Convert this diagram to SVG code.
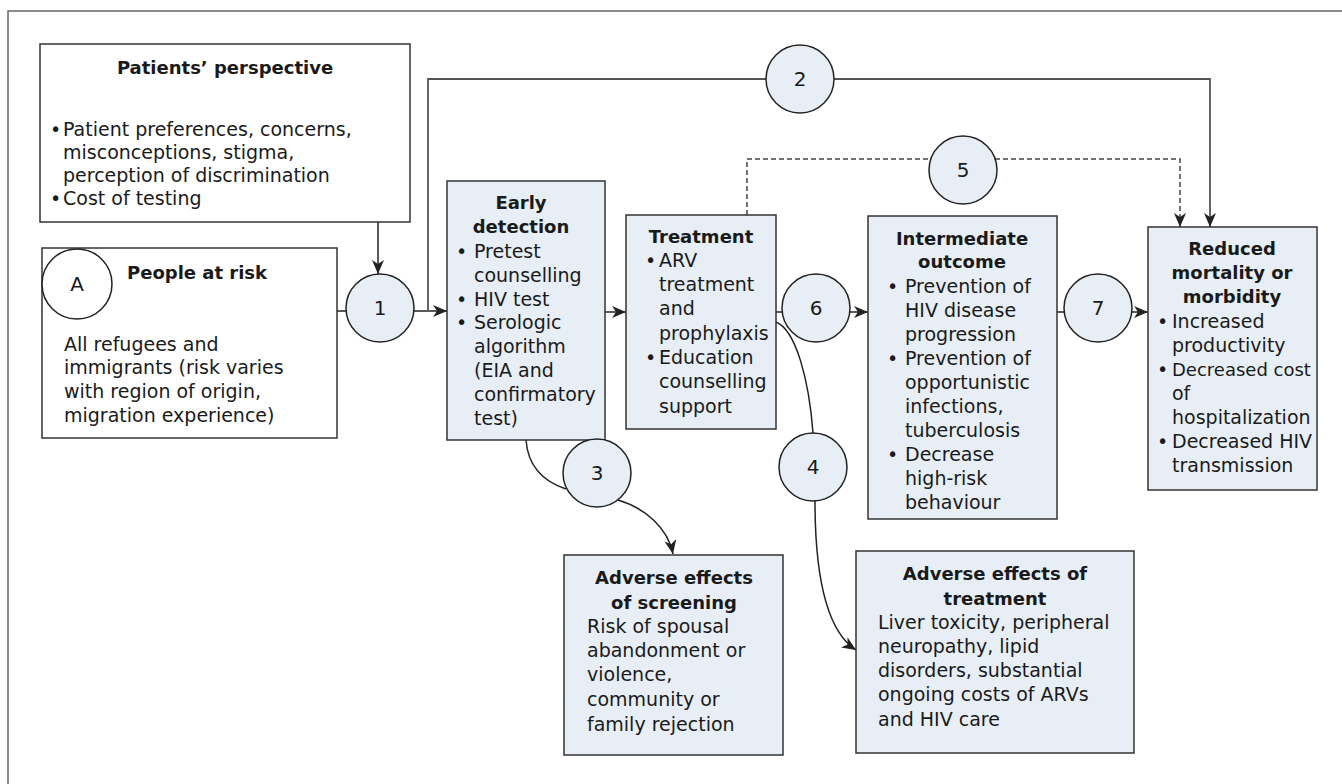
<svg xmlns="http://www.w3.org/2000/svg" width="1342" height="784" viewBox="0 0 1342 784">
<style>
.frame{fill:none;stroke:#666;stroke-width:1.5}
.box{fill:#e7eef6;stroke:#333;stroke-width:1.5}
.wbox{fill:#fff;stroke:#333;stroke-width:1.5}
.circ{fill:#e7eef6;stroke:#222;stroke-width:1.5}
.wcirc{fill:#fff;stroke:#222;stroke-width:1.5}
.ln{fill:none;stroke:#222;stroke-width:1.5}
.ln2{fill:none;stroke:#555;stroke-width:1.8}
.dash{fill:none;stroke:#444;stroke-width:1.5;stroke-dasharray:5,3}
text{font-family:"DejaVu Sans","Noto Sans",sans-serif;fill:#1a1a1a}
.t{font-size:19px}
.s{font-size:19px}
.b{font-weight:bold;font-size:18px}
.m{text-anchor:middle}
.n{font-size:20px;text-anchor:middle}
</style>
<defs>
<marker id="ah" viewBox="0 0 14 12" refX="14" refY="6" markerWidth="14" markerHeight="12" markerUnits="userSpaceOnUse" orient="auto">
<path d="M0,0 L14,6 L0,12 L4,6 z" fill="#222"/>
</marker>
</defs>
<path class="frame" d="M8,784 V11 H1342"/>
<g id="connectors">
<path class="ln" d="M337,311 H346"/>
<path class="ln" d="M414,311 H447" marker-end="url(#ah)"/>
<path class="ln" d="M378,222 V274" marker-end="url(#ah)"/>
<path class="ln2" d="M428,311 V79 H1210 V227" marker-end="url(#ah)"/>
<path class="ln" d="M597,312 H626" marker-end="url(#ah)"/>
<path class="ln" d="M776,312 H783"/>
<path class="ln" d="M849,312 H868" marker-end="url(#ah)"/>
<path class="ln" d="M1057,312 H1064"/>
<path class="ln" d="M1132,312 H1148" marker-end="url(#ah)"/>
<path class="dash" d="M747,215 V159 H1180 V227" marker-end="url(#ah)"/>
<path class="ln" d="M526,440 C528,468 545,482 566,489"/>
<path class="ln" d="M618,500 C645,508 668,528 673,554" marker-end="url(#ah)"/>
<path class="ln" d="M776,322 C796,330 809,380 813,433"/>
<path class="ln" d="M815,501 C815,560 822,628 856,650" marker-end="url(#ah)"/>
</g>
<g id="patients">
<rect class="wbox" x="40" y="44" width="370" height="178"/>
<text class="b m" x="225" y="74">Patients’ perspective</text>
<text class="s" x="50" y="136">•</text><text class="s" x="63" y="136">Patient preferences, concerns,</text>
<text class="s" x="63" y="159">misconceptions, stigma,</text>
<text class="s" x="63" y="182">perception of discrimination</text>
<text class="s" x="50" y="205">•</text><text class="s" x="63" y="205">Cost of testing</text>
</g>
<g id="people">
<rect class="wbox" x="42" y="248" width="295" height="190"/>
<circle class="wcirc" cx="77" cy="284" r="35"/>
<text class="n" x="77" y="291">A</text>
<text class="b" x="127" y="279">People at risk</text>
<text class="t" x="64" y="351">All refugees and</text>
<text class="t" x="64" y="374">immigrants (risk varies</text>
<text class="t" x="64" y="398">with region of origin,</text>
<text class="t" x="64" y="422">migration experience)</text>
</g>
<g id="early">
<rect class="box" x="447" y="181" width="158" height="259"/>
<text class="b m" x="521" y="209">Early</text>
<text class="b m" x="521" y="233">detection</text>
<text class="t" x="456" y="258">•</text><text class="t" x="474" y="258">Pretest</text>
<text class="t" x="474" y="282">counselling</text>
<text class="t" x="456" y="306">•</text><text class="t" x="474" y="306">HIV test</text>
<text class="t" x="456" y="329">•</text><text class="t" x="474" y="329">Serologic</text>
<text class="t" x="474" y="353">algorithm</text>
<text class="t" x="474" y="377">(EIA and</text>
<text class="t" x="474" y="401">confirmatory</text>
<text class="t" x="474" y="425">test)</text>
</g>
<g id="treatment">
<rect class="box" x="626" y="215" width="150" height="214"/>
<text class="b m" x="701" y="243">Treatment</text>
<text class="t" x="645" y="267">•</text><text class="t" x="659" y="267">ARV</text>
<text class="t" x="659" y="291">treatment</text>
<text class="t" x="659" y="315">and</text>
<text class="t" x="659" y="340">prophylaxis</text>
<text class="t" x="645" y="364">•</text><text class="t" x="659" y="364">Education</text>
<text class="t" x="659" y="388">counselling</text>
<text class="t" x="659" y="413">support</text>
</g>
<g id="intermediate">
<rect class="box" x="868" y="216" width="189" height="303"/>
<text class="b m" x="962" y="245">Intermediate</text>
<text class="b m" x="962" y="268">outcome</text>
<text class="t" x="887" y="293">•</text><text class="t" x="905" y="293">Prevention of</text>
<text class="t" x="905" y="317">HIV disease</text>
<text class="t" x="905" y="341">progression</text>
<text class="t" x="887" y="365">•</text><text class="t" x="905" y="365">Prevention of</text>
<text class="t" x="905" y="389">opportunistic</text>
<text class="t" x="905" y="413">infections,</text>
<text class="t" x="905" y="437">tuberculosis</text>
<text class="t" x="887" y="461">•</text><text class="t" x="905" y="461">Decrease</text>
<text class="t" x="905" y="485">high-risk</text>
<text class="t" x="905" y="509">behaviour</text>
</g>
<g id="reduced">
<rect class="box" x="1148" y="227" width="169" height="263"/>
<text class="b m" x="1232" y="255">Reduced</text>
<text class="b m" x="1232" y="279">mortality or</text>
<text class="b m" x="1232" y="303">morbidity</text>
<text class="t" x="1157" y="328">•</text><text class="t" x="1172" y="328">Increased</text>
<text class="t" x="1172" y="352">productivity</text>
<text class="t" x="1157" y="376">•</text><text class="t" x="1172" y="376" style="font-size:18px">Decreased cost</text>
<text class="t" x="1172" y="400">of</text>
<text class="t" x="1172" y="424">hospitalization</text>
<text class="t" x="1157" y="448">•</text><text class="t" x="1172" y="448">Decreased HIV</text>
<text class="t" x="1172" y="472">transmission</text>
</g>
<g id="adverse-screening">
<rect class="box" x="564" y="555" width="219" height="200"/>
<text class="b m" x="674" y="584">Adverse effects</text>
<text class="b m" x="674" y="609">of screening</text>
<text class="t" x="587" y="633">Risk of spousal</text>
<text class="t" x="587" y="657">abandonment or</text>
<text class="t" x="587" y="681">violence,</text>
<text class="t" x="587" y="706">community or</text>
<text class="t" x="587" y="731">family rejection</text>
</g>
<g id="adverse-treatment">
<rect class="box" x="856" y="551" width="278" height="202"/>
<text class="b m" x="995" y="580">Adverse effects of</text>
<text class="b m" x="995" y="605">treatment</text>
<text class="t" x="878" y="629">Liver toxicity, peripheral</text>
<text class="t" x="878" y="653">neuropathy, lipid</text>
<text class="t" x="878" y="677">disorders, substantial</text>
<text class="t" x="878" y="701">ongoing costs of ARVs</text>
<text class="t" x="878" y="726">and HIV care</text>
</g>
<g id="c1"><circle class="circ" cx="380" cy="308" r="34"/><text class="n" x="380" y="315">1</text></g>
<g id="c2"><circle class="circ" cx="800" cy="79" r="34"/><text class="n" x="800" y="86">2</text></g>
<g id="c3"><circle class="circ" cx="597" cy="473" r="34"/><text class="n" x="597" y="480">3</text></g>
<g id="c4"><circle class="circ" cx="813" cy="467" r="34"/><text class="n" x="813" y="474">4</text></g>
<g id="c5"><circle class="circ" cx="963" cy="170" r="34"/><text class="n" x="963" y="177">5</text></g>
<g id="c6"><circle class="circ" cx="816" cy="308" r="34"/><text class="n" x="816" y="315">6</text></g>
<g id="c7"><circle class="circ" cx="1098" cy="308" r="34"/><text class="n" x="1098" y="315">7</text></g>
</svg>
